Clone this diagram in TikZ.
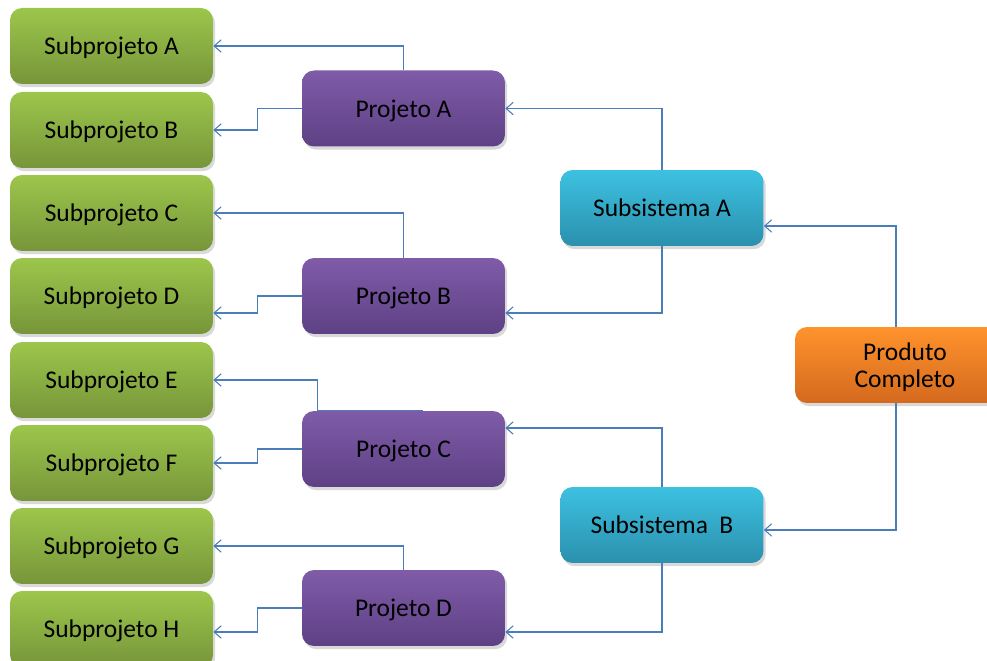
\documentclass[tikz,border=0pt]{standalone}
\usepackage{fontspec}
\setmainfont{Carlito}
\usetikzlibrary{arrows.meta,shadows,calc}
\definecolor{subTop}{HTML}{9CC64B}
\definecolor{subBot}{HTML}{77953A}
\definecolor{projTop}{HTML}{7F5BA8}
\definecolor{projBot}{HTML}{5E4185}
\definecolor{sysTop}{HTML}{3DC1E1}
\definecolor{sysBot}{HTML}{2A90AD}
\definecolor{prodTop}{HTML}{FF932C}
\definecolor{prodBot}{HTML}{D4691E}
\definecolor{linkBlue}{HTML}{4A7EBB}
\tikzset{
box/.style={rounded corners=0.24cm,minimum width=4.06cm,minimum height=1.52cm,align=center,text depth=0pt,
  font=\fontsize{14.5}{15.5}\selectfont,drop shadow={shadow xshift=1.2pt,shadow yshift=-1.8pt,opacity=0.3}},
subbox/.style={box,top color=subTop,bottom color=subBot},
projbox/.style={box,top color=projTop,bottom color=projBot},
sysbox/.style={box,top color=sysTop,bottom color=sysBot},
prodbox/.style={box,top color=prodTop,bottom color=prodBot,minimum width=4.4cm},
link/.style={linkBlue,line width=0.6pt,-{Straight Barb[length=4pt,width=7pt]}}
}
\begin{document}
\begin{tikzpicture}[x=0.02cm,y=-0.02cm]
\useasboundingbox(0,0)rectangle(987,661);
\clip(0,0)rectangle(987,661);
%subprojetos
\foreach \l/\y in {A/46,B/130,C/213,D/296,E/380,F/463,G/546,H/629}
  \node[subbox](s\l) at (111.5,\y){Subprojeto \l};
%projetos
\node[projbox](pA) at (403.5,108.5){Projeto A};
\node[projbox](pB) at (403.5,296){Projeto B};
\node[projbox](pC) at (403.5,449){Projeto C};
\node[projbox](pD) at (403.5,608){Projeto D};
%subsistemas
\node[sysbox](ssA) at (662,208){Subsistema A};
\node[sysbox](ssB) at (662,525){Subsistema\ \ B};
\node[prodbox](prod) at (905,365){Produto\\Completo};
%
\draw[link](pA.north)|-(sA.east);
\draw[link](pA.west)--++(-44,0)|-(sB.east);
\draw[link](pB.north)|-(sC.east);
\draw[link](pB.west)--++(-44,0)|-($(sD.east)+(0,17)$);
\draw[link]($(pC.north)+(19,0)$)--($(pC.north)+(-86,0)$)|-(sE.east);
\draw[link](pC.west)--++(-44,0)|-(sF.east);
\draw[link](pD.north)|-(sG.east);
\draw[link](pD.west)--++(-44,0)|-($(sH.east)+(0,3)$);
%
\draw[link](ssA.north)|-(pA.east);
\draw[link](ssA.south)|-($(pB.east)+(0,17)$);
\draw[link](ssB.north)|-($(pC.east)+(0,-21)$);
\draw[link](ssB.south)|-($(pD.east)+(0,24)$);
%
\draw[link]($(prod.north)+(-9,0)$)|-($(ssA.east)+(0,18)$);
\draw[link]($(prod.south)+(-9,0)$)|-($(ssB.east)+(0,5)$);
\end{tikzpicture}
\end{document}
